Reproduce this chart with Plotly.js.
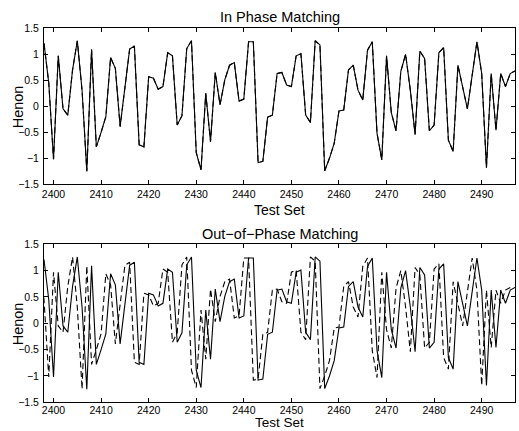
<!DOCTYPE html>
<html>
<head>
<meta charset="utf-8">
<script src="https://cdn.plot.ly/plotly-3.0.1.min.js"></script>
<style>html,body{margin:0;padding:0;background:#fff}#chart{width:519px;height:431px}</style>
</head>
<body>
<div id="chart"></div>
<script>
// Test set sample index
var testIndex = [];
for (var t = 2398; t <= 2497; t++) testIndex.push(t);

// Henon series values (2398 ... 2497)
var henon = [
  1.21, 0.45, -1.02, 0.97, -0.05, -0.17, 0.70, 1.26, 0.31, -1.25,
  1.09, -0.78, -0.50, -0.20, 0.94, 0.73, -0.39, 0.32, 1.10, 1.16,
  -0.74, -0.78, 0.57, 0.54, 0.33, 0.38, 1.03, 0.97, -0.36, -0.18,
  1.11, 1.26, -0.89, -1.22, 0.25, -0.68, 0.65, 0.03, 0.51, 0.79,
  0.84, 0.10, 0.14, 1.24, 1.24, -1.08, -1.06, -0.21, -0.17, 0.63,
  0.65, 0.41, 0.38, 0.97, 1.01, -0.17, -0.31, 1.26, 1.18, -1.24,
  -1.00, -0.71, -0.09, -0.07, 0.70, 0.79, 0.31, 0.12, 1.08, 1.24,
  -0.52, -1.03, 0.97, -0.12, -0.47, 0.67, 1.00, 0.31, -0.54, 1.06,
  0.92, -0.47, -0.36, 1.03, 1.13, -0.65, -0.87, 0.79, 0.38, -0.05,
  0.60, 1.24, 0.63, -1.18, 0.63, -0.46, 0.63, 0.38, 0.63, 0.68
];

// matched series: in phase (same index) and out of phase (one step ahead)
var phaseShift = 1;
var shiftedIndex = testIndex.map(function (v) { return v - phaseShift; });

var xTicks = [2400, 2410, 2420, 2430, 2440, 2450, 2460, 2470, 2480, 2490];
var yTicks = [-1.5, -1, -0.5, 0, 0.5, 1, 1.5];
var yTickText = ['\u22121.5', '\u22121', '\u22120.5', '0', '0.5', '1', '1.5'];

var W = 519, H = 431;
function px(x) { return x / W; }
function py(y) { return 1 - y / H; }

var FONT = 'Liberation Sans, Arial, Helvetica, sans-serif';
var solid = {color: '#000', width: 1.1};
var dashed = {color: '#000', width: 1.1, dash: '6px,3.5px'};

var traces = [
  {x: testIndex, y: henon, type: 'scatter', mode: 'lines', line: solid, xaxis: 'x', yaxis: 'y', hoverinfo: 'skip'},
  {x: testIndex, y: henon, type: 'scatter', mode: 'lines', line: dashed, xaxis: 'x', yaxis: 'y', hoverinfo: 'skip'},
  {x: testIndex, y: henon, type: 'scatter', mode: 'lines', line: solid, xaxis: 'x2', yaxis: 'y2', hoverinfo: 'skip'},
  {x: shiftedIndex, y: henon, type: 'scatter', mode: 'lines', line: dashed, xaxis: 'x2', yaxis: 'y2', hoverinfo: 'skip'}
];

function xAxis(anchor, domain, standoff) {
  return {
    domain: domain, anchor: anchor, range: [2398, 2497],
    tickmode: 'array', tickvals: xTicks,
    ticks: 'inside', ticklen: 4, tickwidth: 1, tickcolor: '#000',
    showline: true, linecolor: '#000', linewidth: 1, mirror: 'ticks',
    showgrid: false, zeroline: false,
    tickfont: {family: FONT, size: 10.5, color: '#000'},
    ticklabelstandoff: standoff
  };
}
function yAxis(anchor, domain) {
  return {
    domain: domain, anchor: anchor, range: [-1.5, 1.5],
    tickmode: 'array', tickvals: yTicks, ticktext: yTickText,
    ticks: 'inside', ticklen: 4, tickwidth: 1, tickcolor: '#000',
    showline: true, linecolor: '#000', linewidth: 1, mirror: 'ticks',
    showgrid: false, zeroline: false,
    tickfont: {family: FONT, size: 10.5, color: '#000'},
    ticklabelstandoff: 2
  };
}

var xDom = [px(44), px(515)];
var layout = {
  width: W, height: H,
  margin: {l: 0, r: 0, t: 0, b: 0},
  paper_bgcolor: '#fff', plot_bgcolor: '#fff',
  showlegend: false,
  xaxis: xAxis('y', xDom, 0),
  yaxis: yAxis('x', [py(184.3), py(28.3)]),
  xaxis2: xAxis('y2', xDom, -2),
  yaxis2: yAxis('x2', [py(402.3), py(244.3)]),
  annotations: [
    {text: 'In Phase Matching', x: px(279.5), y: py(16.7), xref: 'paper', yref: 'paper', xanchor: 'center', yanchor: 'middle', showarrow: false, font: {family: FONT, size: 14.5, color: '#000'}},
    {text: 'Test Set', x: px(279.5), y: py(210), xref: 'paper', yref: 'paper', xanchor: 'center', yanchor: 'middle', showarrow: false, font: {family: FONT, size: 14, color: '#000'}},
    {text: 'Henon', x: px(18), y: py(106.3), xref: 'paper', yref: 'paper', xanchor: 'center', yanchor: 'middle', textangle: -90, showarrow: false, font: {family: FONT, size: 14.5, color: '#000'}},
    {text: 'Out\u2212of\u2212Phase Matching', x: px(279.5), y: py(234), xref: 'paper', yref: 'paper', xanchor: 'center', yanchor: 'middle', showarrow: false, font: {family: FONT, size: 14.5, color: '#000'}},
    {text: 'Test Set', x: px(279.5), y: 0, xref: 'paper', yref: 'paper', xanchor: 'center', yanchor: 'bottom', borderpad: 0, showarrow: false, font: {family: FONT, size: 13.5, color: '#000'}},
    {text: 'Henon', x: px(18), y: py(323.3), xref: 'paper', yref: 'paper', xanchor: 'center', yanchor: 'middle', textangle: -90, showarrow: false, font: {family: FONT, size: 14.5, color: '#000'}}
  ]
};

Plotly.newPlot('chart', traces, layout, {staticPlot: true, displayModeBar: false});
</script>
</body>
</html>
